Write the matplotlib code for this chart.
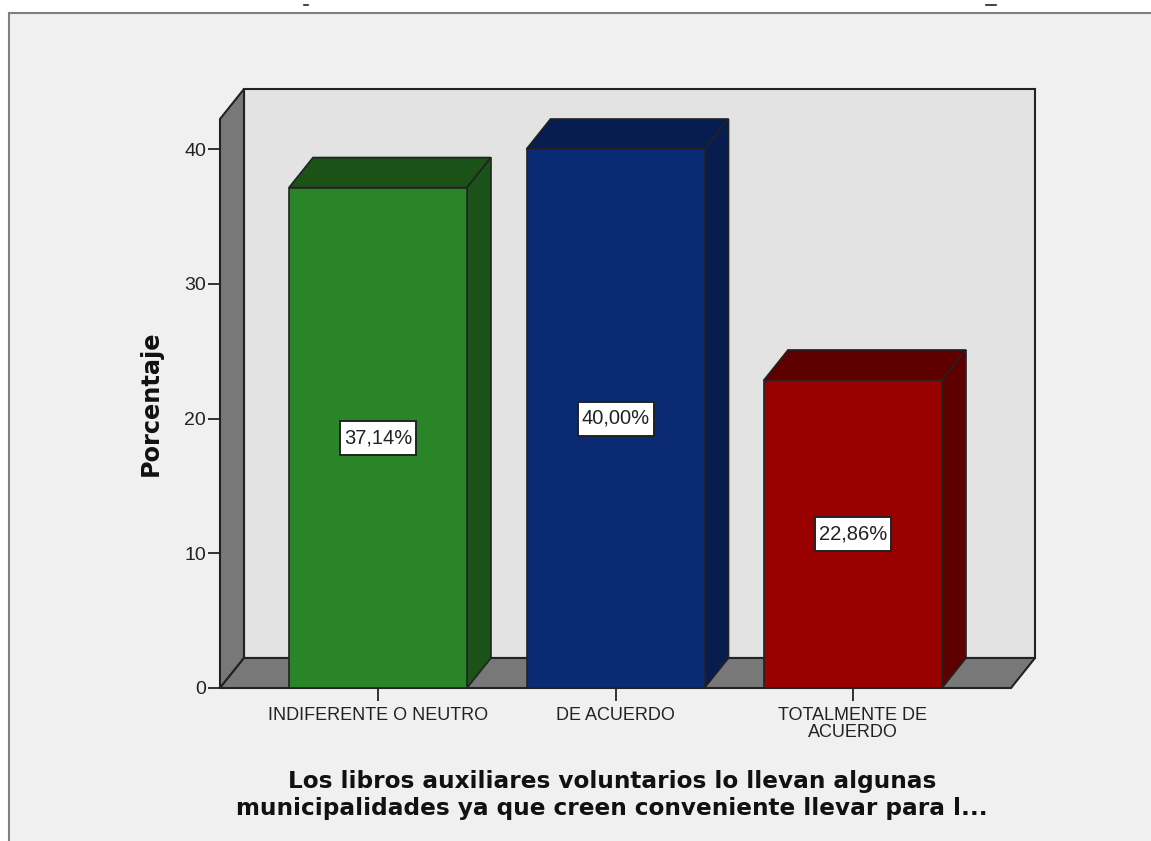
import matplotlib
matplotlib.use('Agg')
import matplotlib.pyplot as plt
from matplotlib.lines import Line2D
from matplotlib.patches import Polygon, Rectangle

categories = ['INDIFERENTE O NEUTRO', 'DE ACUERDO', 'TOTALMENTE DE\nACUERDO']
values = [37.14, 40.00, 22.86]
value_labels = ['37,14%', '40,00%', '22,86%']
front_colors = ['#2a8529', '#0a2a73', '#990000']
dark_colors = ['#1a5218', '#071c4f', '#5e0000']
y_ticks = [0, 10, 20, 30, 40]
title_lines = 'Los libros auxiliares voluntarios lo llevan algunas\nmunicipalidades ya que creen conveniente llevar para l...'

W, H = 1151, 841
EDGE = '#222222'
plt.rcParams['font.family'] = ['Liberation Sans', 'DejaVu Sans']

fig = plt.figure(figsize=(W / 100, H / 100), dpi=100, facecolor='white')

# outer panel, runs off the right and bottom edges
fig.add_artist(Rectangle((9 / W, -0.02), 1.02, (H - 13) / H + 0.02, transform=fig.transFigure,
                         facecolor='#f0f0f0', edgecolor='#808080', linewidth=1.5, zorder=-1))

# bits of the cropped title left above the panel
fig.add_artist(Line2D([304 / W, 308 / W], [(H - 5) / H] * 2, color='#222222', lw=1.2))
fig.add_artist(Line2D([986 / W, 996 / W], [(H - 5) / H] * 2, color='#222222', lw=1.2))

# front plane of the 3d box, in pixels
left, right, base, top = 220, 1011, 688, 119
ax = fig.add_axes([left / W, (H - base) / H, (right - left) / W, (base - top) / H])
ax.patch.set_visible(False)
px_x = 237.5
px_y = 13.475
ax.set_xlim((left - 378) / px_x, (right - 378) / px_x)
ax.set_ylim(0, (base - top) / px_y)
x0, x1 = ax.get_xlim()
y1 = ax.get_ylim()[1]
dx = 24 / px_x
dy = 30 / px_y

# box walls
ax.add_patch(Rectangle((x0 + dx, dy), x1 - x0, y1, facecolor='#e3e3e3', edgecolor=EDGE, lw=1.5, clip_on=False, zorder=1))
ax.add_patch(Polygon([(x0, 0), (x0, y1), (x0 + dx, y1 + dy), (x0 + dx, dy)], facecolor='#787878', edgecolor=EDGE, lw=1.5, clip_on=False, zorder=2))
ax.add_patch(Polygon([(x0, 0), (x1, 0), (x1 + dx, dy), (x0 + dx, dy)], facecolor='#787878', edgecolor=EDGE, lw=1.5, clip_on=False, zorder=2))

# bars
width = 178 / px_x
box_w = 76 / px_x
box_h = 34 / px_y
for i, v in enumerate(values):
    l, r = i - width / 2, i + width / 2
    ax.add_patch(Polygon([(l, v), (r, v), (r + dx, v + dy), (l + dx, v + dy)], facecolor=dark_colors[i], edgecolor=EDGE, lw=1.2, clip_on=False, zorder=3))
    ax.add_patch(Polygon([(r, 0), (r, v), (r + dx, v + dy), (r + dx, dy)], facecolor=dark_colors[i], edgecolor=EDGE, lw=1.2, clip_on=False, zorder=3))
    ax.bar(i, v, width=width, color=front_colors[i], edgecolor=EDGE, linewidth=1.2, zorder=4, clip_on=False)
    # label box is wider than the text's own bbox padding allows, so drawn apart
    ax.add_patch(Rectangle((i - box_w / 2, v / 2 - box_h / 2), box_w, box_h, facecolor='white', edgecolor=EDGE, lw=1.4, zorder=5))
    ax.text(i, v / 2, value_labels[i], ha='center', va='center', fontsize=14.5, color='#222222', zorder=6)

for s in ax.spines.values():
    s.set_visible(False)
ax.set_xticks(range(len(categories)))
ax.set_xticklabels(categories, fontsize=13, color='#222222', linespacing=1.05)
ax.set_yticks(y_ticks)
ax.tick_params(axis='x', length=9.4, width=1.3, color=EDGE, pad=4)
ax.tick_params(axis='y', length=9, width=1.3, color=EDGE, pad=1, labelsize=14, labelcolor='#222222')

fig.text(151 / W, (H - 403) / H, 'Porcentaje', rotation=90, ha='center', va='center', fontsize=17.3, fontweight='bold', family='DejaVu Sans', color='#111111')
fig.text(612 / W, (H - 795) / H, title_lines, ha='center', va='center', fontsize=16.7, fontweight='bold', family='DejaVu Sans', color='#111111', linespacing=1.25)

plt.savefig('out.png', dpi=100, facecolor=fig.get_facecolor())
